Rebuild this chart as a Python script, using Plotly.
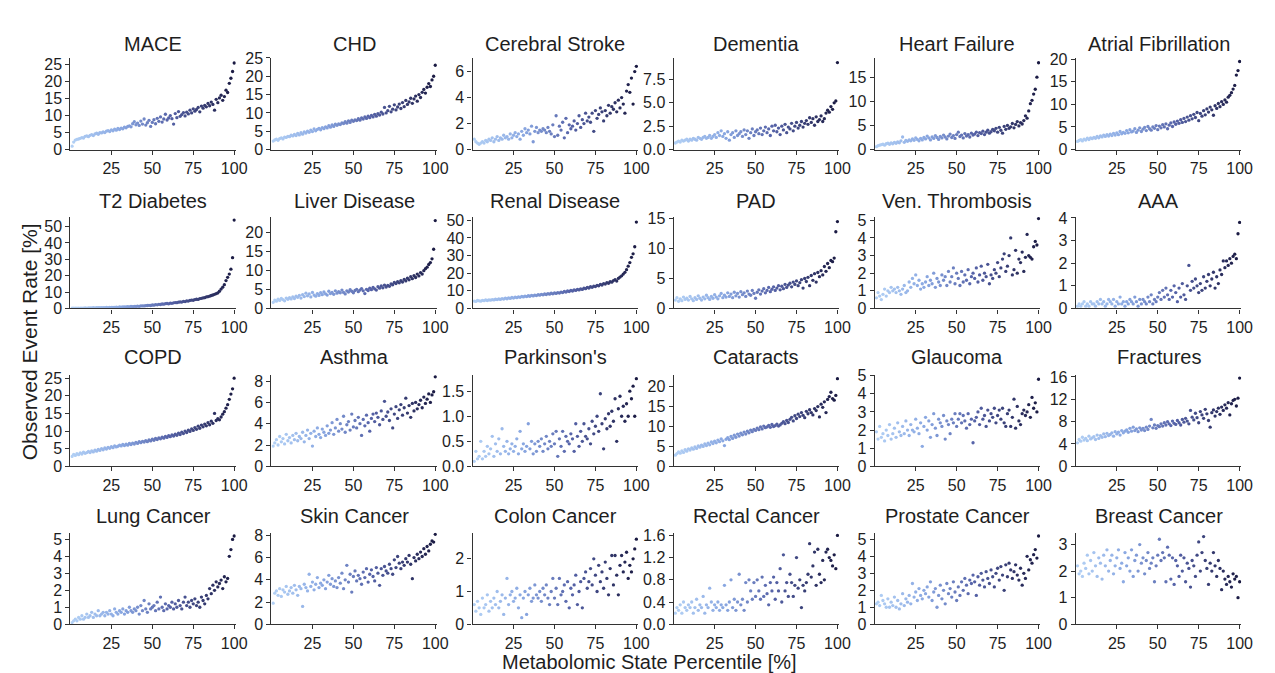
import plotly.graph_objects as go

# ---------------- data ----------------
titles = ["MACE", "CHD", "Cerebral Stroke", "Dementia", "Heart Failure", "Atrial Fibrillation",
          "T2 Diabetes", "Liver Disease", "Renal Disease", "PAD", "Ven. Thrombosis", "AAA",
          "COPD", "Asthma", "Parkinson's", "Cataracts", "Glaucoma", "Fractures",
          "Lung Cancer", "Skin Cancer", "Colon Cancer", "Rectal Cancer", "Prostate Cancer", "Breast Cancer"]

percentile = list(range(1, 101))

mace = [1.0, 2.2, 2.8, 3.0, 3.1, 3.3, 3.5, 3.4, 3.9, 4.0,
        3.8, 4.2, 4.4, 4.1, 4.6, 4.8, 4.5, 5.0, 4.9, 5.2,
        5.0, 5.4, 5.6, 5.3, 5.8, 5.5, 6.0, 5.7, 6.2, 5.9,
        6.3, 6.1, 6.6, 6.4, 6.8, 7.0, 6.7, 7.6, 8.2, 7.3,
        7.8, 7.1, 8.4, 7.5, 9.0, 7.2, 7.9, 8.6, 6.8, 8.0,
        8.8, 7.6, 9.2, 8.3, 9.6, 8.1, 9.0, 10.4, 8.7, 9.3,
        10.0, 9.1, 7.5, 10.6, 9.4, 11.2, 9.8, 10.3, 10.9, 9.9,
        11.0, 10.5, 11.6, 10.8, 12.0, 11.3, 11.8, 12.4, 11.1, 12.8,
        12.2, 13.0, 12.6, 13.6, 12.9, 14.0, 13.3, 11.6, 14.8, 13.8,
        15.2, 16.0, 14.5, 15.6, 17.5, 16.8, 19.5, 21.0, 23.0, 25.5]

chd = [2.3, 2.6, 2.8, 2.5, 3.0, 3.2, 2.9, 3.4, 3.3, 3.6,
       3.5, 3.9, 3.7, 4.1, 3.8, 4.4, 4.0, 4.6, 4.2, 4.8,
       4.5, 5.0, 4.7, 5.3, 4.9, 5.6, 5.1, 5.5, 5.8, 5.4,
       6.0, 5.7, 6.2, 5.9, 6.5, 6.1, 6.7, 6.3, 6.9, 6.6,
       7.0, 6.8, 7.3, 7.1, 7.6, 7.2, 7.8, 7.4, 8.0, 7.7,
       8.1, 7.9, 8.4, 8.0, 8.6, 8.3, 8.9, 8.5, 9.1, 8.7,
       9.3, 8.9, 9.6, 9.1, 9.8, 9.4, 10.2, 9.7, 11.5, 10.0,
       10.6, 11.8, 10.3, 11.0, 12.2, 10.8, 11.6, 12.4, 11.2, 12.8,
       11.7, 13.4, 12.3, 13.0, 14.0, 12.6, 13.8, 14.6, 13.2, 15.0,
       14.2, 15.6, 16.4, 15.4, 17.0, 18.0, 17.2, 19.0, 20.0, 23.0]

stroke = [0.8, 0.6, 0.5, 0.4, 0.5, 0.6, 0.5, 0.7, 0.6, 0.8,
          0.7, 0.9, 0.6, 0.8, 1.0, 0.7, 0.9, 0.8, 1.1, 0.9,
          1.0, 0.8, 1.2, 0.9, 1.1, 1.3, 1.0, 1.2, 0.8, 1.4,
          1.1, 1.6, 1.3, 1.5, 1.2, 1.8, 0.6, 1.4, 1.7, 1.3,
          1.5, 1.4, 1.6, 1.5, 1.3, 1.7, 1.4, 1.2, 1.9, 1.0,
          2.6, 1.1, 1.8, 1.5, 2.1, 0.9, 2.4, 1.3, 1.9, 1.6,
          1.8, 2.2, 1.5, 2.0, 2.6, 1.7, 2.3, 2.0, 2.8, 2.2,
          2.5, 2.1, 2.8, 1.4, 3.0, 2.4, 2.7, 3.2, 2.9, 2.2,
          3.0, 2.6, 3.4, 2.8, 3.3, 3.1, 3.6, 2.9, 3.8, 3.2,
          4.0, 3.5, 2.8, 4.5, 5.0, 4.4, 5.5, 3.5, 6.0, 6.4]

dementia = [0.7, 0.8, 0.9, 0.8, 1.0, 0.9, 1.0, 1.1, 0.9, 1.1,
            1.0, 1.2, 1.1, 1.0, 1.3, 1.2, 1.1, 1.3, 1.4, 1.2,
            1.3, 1.5, 1.2, 1.4, 1.6, 1.3, 1.8, 1.5, 2.0, 1.4,
            1.7, 1.2, 1.9, 1.0, 1.6, 1.8, 1.3, 2.0, 1.5, 1.7,
            1.9, 1.4, 2.1, 1.6, 2.0, 1.2, 1.8, 2.2, 1.5, 1.9,
            2.1, 1.7, 2.3, 1.6, 2.0, 2.4, 1.8, 2.2, 1.5, 2.5,
            2.0, 2.6, 1.9, 2.3, 1.6, 2.5, 2.1, 2.7, 1.8, 2.4,
            2.2, 2.8, 2.0, 2.5, 2.9, 2.3, 2.6, 3.0, 2.4, 2.8,
            3.1, 2.7, 3.4, 2.9, 3.3, 2.6, 3.5, 3.0, 3.2, 3.6,
            3.0, 3.3, 3.9, 4.2, 4.0, 4.6, 4.3, 5.0, 5.2, 9.3]

heart_failure = [0.6, 0.8, 0.9, 1.0, 1.1, 0.9, 1.2, 1.3, 1.1, 1.4,
                 1.2, 1.5, 1.3, 1.6, 1.4, 1.8, 2.6, 1.5, 1.9, 1.7,
                 2.0, 1.8, 2.2, 1.9, 2.4, 2.1, 1.8, 2.3, 2.0, 2.5,
                 2.2, 2.8, 2.4, 2.0, 2.6, 2.3, 2.9, 2.5, 2.1, 2.7,
                 2.4, 3.0, 2.6, 2.2, 2.8, 3.2, 2.5, 2.9, 2.3, 3.1,
                 3.6, 2.7, 3.0, 2.4, 3.3, 2.8, 3.1, 2.6, 3.4, 3.0,
                 3.2, 3.6, 2.9, 3.5, 3.3, 3.8, 3.1, 3.6, 4.0, 3.4,
                 3.7, 4.2, 3.9, 4.4, 3.6, 4.6, 4.0, 3.4, 4.8, 4.2,
                 5.0, 4.4, 4.7, 5.4, 4.5, 5.2, 5.8, 4.9, 5.6, 5.3,
                 6.0, 7.0, 6.5, 8.0, 9.5, 10.2, 11.5, 12.5, 15.0, 18.0]

atrial_fib = [1.8, 2.0, 2.2, 1.9, 2.3, 2.1, 2.5, 2.2, 2.6, 2.4,
              2.7, 2.5, 2.9, 2.6, 3.0, 2.8, 3.2, 2.9, 3.3, 3.0,
              3.4, 3.1, 3.6, 3.2, 3.7, 3.3, 4.0, 3.5, 3.8, 3.6,
              4.2, 3.7, 4.4, 3.9, 4.1, 4.6, 3.8, 4.3, 4.8, 4.0,
              4.5, 4.9, 4.2, 5.1, 4.6, 4.3, 5.0, 4.7, 5.3, 4.4,
              5.2, 4.8, 5.5, 5.0, 5.7, 4.6, 5.4, 5.9, 5.1, 6.1,
              5.6, 6.3, 5.8, 6.6, 6.0, 6.9, 6.2, 7.2, 6.5, 7.5,
              6.8, 7.8, 7.1, 8.2, 6.4, 8.0, 7.4, 8.6, 7.7, 9.0,
              8.3, 9.4, 8.8, 7.6, 9.7, 9.1, 10.2, 9.5, 10.6, 10.0,
              11.0, 10.5, 11.6, 12.0, 12.6, 13.4, 14.2, 16.5, 17.5, 19.5]

t2_diabetes = [0.1, 0.1, 0.1, 0.2, 0.1, 0.2, 0.2, 0.2, 0.3, 0.2,
               0.3, 0.3, 0.3, 0.4, 0.3, 0.4, 0.4, 0.5, 0.4, 0.5,
               0.5, 0.6, 0.5, 0.6, 0.7, 0.6, 0.7, 0.8, 0.7, 0.9,
               0.8, 0.9, 1.0, 0.9, 1.1, 1.0, 1.2, 1.1, 1.3, 1.2,
               1.4, 1.3, 1.5, 1.6, 1.5, 1.7, 1.8, 1.9, 1.8, 2.1,
               2.0, 2.3, 2.2, 2.5, 2.4, 2.7, 2.6, 2.9, 3.0, 2.8,
               3.2, 3.1, 3.4, 3.6, 3.5, 3.8, 4.0, 3.9, 4.3, 4.2,
               4.6, 4.5, 4.9, 5.1, 5.0, 5.4, 5.6, 5.5, 6.0, 6.2,
               6.4, 6.6, 7.0, 7.2, 7.5, 7.9, 8.2, 8.6, 9.0, 9.5,
               10.5, 11.8, 13.0, 14.5, 17.0, 19.0, 21.0, 24.0, 31.0, 54.0]

liver = [1.6, 2.2, 1.9, 2.4, 2.1, 2.6, 2.3, 2.0, 2.7, 2.4,
         2.8, 2.5, 3.0, 2.6, 3.2, 2.9, 3.4, 2.7, 3.6, 3.1,
         4.0, 3.3, 3.8, 3.0, 4.2, 3.5, 3.2, 3.9, 3.4, 4.1,
         3.6, 4.3, 3.8, 3.5, 4.5, 3.9, 4.2, 3.7, 4.6, 4.0,
         4.4, 4.1, 4.8, 4.2, 3.8, 4.6, 4.3, 4.9, 4.5, 4.1,
         4.7, 5.0, 4.4, 4.8, 5.2, 4.6, 3.9, 5.0, 4.7, 5.3,
         4.9, 5.5, 5.1, 4.8, 5.7, 5.3, 5.9, 5.4, 6.1, 5.6,
         6.0, 5.8, 6.4, 6.2, 6.8, 6.5, 7.0, 6.7, 7.3, 6.9,
         7.6, 7.2, 7.9, 7.5, 8.3, 7.8, 8.6, 8.1, 9.0, 8.5,
         9.4, 9.0, 9.9, 10.4, 10.8, 11.5, 12.0, 13.0, 15.5, 23.0]

renal = [4.2, 4.0, 4.5, 4.3, 4.1, 4.6, 4.4, 4.8, 4.5, 4.9,
         4.7, 5.0, 4.8, 5.2, 5.0, 5.4, 5.1, 5.6, 5.3, 5.8,
         5.5, 6.0, 5.7, 6.2, 5.9, 6.4, 6.1, 6.6, 6.3, 6.8,
         6.5, 7.0, 6.7, 7.2, 6.9, 7.4, 7.1, 7.6, 7.3, 7.8,
         7.5, 8.0, 7.7, 8.2, 7.9, 8.4, 8.1, 8.6, 8.3, 8.8,
         8.5, 9.0, 8.7, 9.3, 9.0, 9.6, 9.3, 9.9, 9.6, 10.2,
         9.9, 10.5, 10.2, 10.8, 10.5, 11.1, 10.8, 11.5, 11.2, 11.9,
         11.6, 12.3, 12.0, 12.7, 12.4, 13.1, 12.8, 13.6, 13.3, 14.1,
         13.8, 14.6, 14.3, 15.2, 14.9, 15.8, 16.3, 15.5, 17.0, 17.8,
         18.5, 19.5, 20.5, 22.0, 24.0, 26.0, 29.0, 31.0, 35.0, 49.0]

pad = [1.4, 1.8, 1.2, 1.6, 1.3, 1.9, 1.5, 1.7, 1.4, 2.0,
       1.6, 1.3, 1.8, 1.5, 2.1, 1.7, 1.4, 1.9, 1.6, 2.2,
       1.8, 1.5, 2.0, 1.7, 2.3, 1.9, 1.6, 2.1, 2.5, 1.8,
       2.2, 1.9, 2.6, 2.0, 2.4, 1.8, 2.7, 2.1, 2.5, 1.9,
       2.8, 2.3, 2.6, 2.0, 2.9, 2.4, 2.2, 3.0, 2.5, 1.7,
       2.7, 3.1, 2.4, 2.9, 3.3, 2.6, 3.0, 3.5, 2.8, 3.2,
       3.6, 3.0, 3.4, 3.8, 3.1, 3.7, 3.3, 4.0, 3.5, 3.9,
       4.2, 3.6, 4.4, 4.0, 4.6, 3.8, 4.3, 4.8, 3.4, 5.0,
       4.5, 5.2, 3.8, 5.5, 4.7, 5.8, 4.4, 6.0, 5.3, 6.3,
       5.6, 7.0, 6.2, 7.5, 6.8, 8.0, 7.8, 8.4, 12.8, 14.5]

ven_thromb = [0.6, 0.9, 0.7, 0.5, 0.8, 1.1, 0.7, 1.0, 0.9, 1.2,
              1.0, 1.1, 0.9, 1.2, 1.0, 0.8, 1.1, 1.3, 0.9, 1.0,
              1.5, 1.2, 1.7, 1.4, 1.9, 1.3, 1.6, 1.1, 1.4, 1.2,
              1.5, 1.8, 1.3, 1.6, 1.4, 2.0, 1.2, 1.7, 1.5, 1.3,
              1.9, 1.6, 1.8, 1.3, 2.1, 1.5, 1.8, 2.3, 1.4, 2.0,
              1.7, 1.3, 2.1, 1.5, 1.9, 1.6, 2.2, 1.4, 1.8, 2.0,
              1.7, 2.3, 1.5, 1.9, 2.4, 1.6, 2.0, 1.8, 2.5, 1.4,
              1.9, 1.7, 2.2, 2.0, 2.6, 1.8, 2.3, 2.8, 3.1, 2.1,
              2.4, 3.0, 4.0, 1.9, 2.2, 3.3, 2.0, 2.8, 2.6, 3.2,
              2.1, 2.9, 4.2, 3.0, 2.9, 2.8, 3.5, 3.8, 3.6, 5.1]

aaa = [0.1, 0.2, 0.1, 0.2, 0.3, 0.1, 0.2, 0.1, 0.3, 0.2,
       0.2, 0.1, 0.3, 0.2, 0.4, 0.2, 0.3, 0.1, 0.2, 0.4,
       0.3, 0.2, 0.4, 0.1, 0.3, 0.2, 0.5, 0.2, 0.3, 0.1,
       0.3, 0.2, 0.4, 0.3, 0.2, 0.5, 0.3, 0.1, 0.4, 0.2,
       0.4, 0.3, 0.2, 0.5, 0.3, 0.6, 0.2, 0.4, 0.3, 0.5,
       0.7, 0.4, 0.8, 0.5, 0.9, 0.6, 0.4, 0.8, 0.5, 1.0,
       0.7, 0.3, 0.9, 0.5, 1.1, 0.6, 0.4, 1.0, 1.9, 0.8,
       1.2, 0.9, 1.3, 1.0, 0.7, 1.1, 0.8, 1.4, 0.9, 1.2,
       1.5, 1.0, 1.3, 1.6, 0.9, 1.4, 1.1, 1.7, 1.5, 2.1,
       1.8, 2.1, 1.9, 2.2, 2.0, 2.3, 2.4, 2.2, 3.3, 3.8]

copd = [2.8, 3.4, 3.1, 3.6, 3.3, 3.8, 3.5, 4.0, 3.7, 3.9,
        4.2, 3.9, 4.4, 4.1, 4.6, 4.3, 4.8, 4.5, 5.0, 4.7,
        5.2, 4.9, 5.4, 5.1, 5.6, 5.3, 5.8, 5.5, 5.7, 6.0,
        5.8, 6.2, 5.9, 6.3, 6.0, 6.5, 6.2, 6.6, 6.3, 6.8,
        6.5, 7.0, 6.7, 7.1, 6.9, 7.3, 7.0, 7.5, 7.2, 7.7,
        7.4, 7.9, 7.6, 8.1, 7.8, 8.3, 8.0, 8.5, 8.2, 8.7,
        8.4, 8.9, 8.6, 9.1, 8.8, 9.4, 9.0, 9.7, 9.3, 10.0,
        9.6, 10.3, 9.9, 10.6, 10.2, 11.0, 10.5, 11.4, 10.8, 11.7,
        11.2, 12.0, 11.5, 12.4, 11.8, 12.8, 12.2, 15.0, 13.0, 13.5,
        13.2, 14.0, 14.8, 15.5, 16.5, 17.5, 19.0, 20.5, 22.0, 25.0]

asthma = [1.9, 2.2, 2.5, 2.0, 2.8, 2.3, 2.6, 2.1, 3.0, 2.4,
          2.7, 2.2, 2.9, 2.5, 3.1, 2.4, 2.8, 2.6, 3.2, 2.3,
          2.9, 3.4, 2.6, 3.1, 1.9, 3.3, 2.8, 3.6, 3.0, 2.7,
          3.5, 3.2, 2.9, 3.8, 3.1, 3.4, 4.1, 3.0, 3.6, 4.4,
          3.3, 4.0, 3.5, 4.7, 3.2, 3.9, 4.2, 3.4, 4.9, 3.7,
          4.3, 3.6, 4.6, 4.0, 2.9, 4.4, 3.8, 4.8, 4.1, 3.3,
          4.5, 4.9, 4.2, 5.0, 4.6, 3.9, 5.2, 4.4, 6.1, 4.7,
          5.1, 4.3, 5.4, 3.6, 4.9, 5.6, 4.5, 5.3, 5.8, 4.8,
          5.5, 6.4, 5.0, 5.7, 4.6, 5.9, 5.2, 6.0, 5.4, 5.8,
          6.2, 5.5, 6.5, 5.9, 6.3, 6.8, 6.0, 6.7, 7.0, 8.4]

parkinsons = [0.1, 0.3, 0.15, 0.2, 0.5, 0.15, 0.3, 0.2, 0.4, 0.25,
              0.35, 0.6, 0.2, 0.45, 0.3, 0.55, 0.25, 0.75, 0.4, 0.3,
              0.5, 0.25, 0.35, 0.45, 0.3, 0.4, 0.55, 0.25, 0.7, 0.35,
              0.45, 0.3, 0.4, 0.85, 0.35, 0.5, 0.25, 0.45, 0.3, 0.5,
              0.4, 0.55, 0.3, 0.45, 0.6, 0.35, 0.5, 0.4, 0.65, 0.45,
              0.7, 0.2, 0.55, 0.4, 0.7, 0.3, 0.6, 0.5, 0.45, 0.65,
              0.55, 0.3, 0.85, 0.6, 0.4, 0.7, 0.5, 0.85, 0.6, 0.55,
              0.75, 0.45, 0.9, 0.65, 0.8, 1.0, 0.7, 1.45, 0.85, 0.35,
              0.95, 0.75, 1.05, 0.8, 1.1, 0.9, 1.35, 0.5, 1.15, 1.4,
              1.0, 1.2, 0.9, 1.25, 1.0, 1.5, 1.35, 1.6, 1.0, 1.75]

cataracts = [2.8, 3.2, 3.6, 3.3, 3.9, 3.5, 4.2, 3.8, 4.4, 4.1,
             4.6, 4.3, 4.9, 4.5, 5.1, 4.8, 5.3, 5.0, 5.6, 5.2,
             5.8, 5.4, 6.1, 5.7, 6.3, 5.9, 6.6, 6.2, 6.9, 6.4,
             5.2, 6.8, 7.2, 6.7, 7.5, 7.0, 7.8, 7.3, 8.1, 7.6,
             8.3, 7.9, 8.6, 8.1, 8.8, 8.4, 9.1, 8.7, 9.3, 9.0,
             9.6, 9.2, 9.9, 9.4, 10.1, 9.7, 9.9, 10.3, 9.8, 10.5,
             10.0, 10.2, 10.6, 10.1, 10.4, 10.8, 11.2, 10.7, 11.5, 11.0,
             11.8, 12.3, 11.4, 12.7, 12.0, 13.1, 12.5, 13.5, 12.8, 12.2,
             13.8, 13.2, 14.2, 13.5, 12.9, 14.5, 14.0, 15.0, 12.4, 15.6,
             14.8, 16.2, 13.5, 16.8, 17.5, 18.6, 17.0, 16.6, 17.8, 22.0]

glaucoma = [1.9, 1.5, 2.2, 1.6, 1.8, 1.4, 2.0, 1.7, 2.3, 1.5,
            1.8, 2.1, 1.6, 2.4, 1.9, 1.7, 2.2, 1.8, 2.5, 2.0,
            1.7, 2.3, 2.0, 1.9, 2.6, 2.1, 1.8, 2.4, 1.1, 2.2,
            2.7, 2.0, 2.5, 1.6, 2.3, 2.9, 2.1, 1.7, 2.6, 2.4,
            2.2, 2.8, 1.5, 2.5, 2.3, 1.8, 2.6, 2.4, 2.9, 2.2,
            2.6, 2.9, 2.4, 2.8, 2.5, 2.1, 2.9, 2.3, 2.6, 1.3,
            2.5, 2.7, 3.0, 2.3, 3.2, 2.6, 2.8, 2.2, 3.1, 2.5,
            2.9, 2.7, 3.2, 2.4, 2.8, 3.1, 2.6, 3.2, 2.4, 2.2,
            2.9, 3.1, 2.2, 2.7, 3.7, 2.1, 3.3, 2.5, 2.3, 2.9,
            3.1, 2.8, 3.0, 3.4, 2.7, 3.8, 3.2, 3.5, 3.0, 4.8]

fractures = [4.2, 4.8, 4.5, 5.2, 4.7, 5.0, 4.6, 5.4, 4.9, 5.1,
             5.3, 4.8, 5.6, 5.0, 5.5, 5.2, 5.8, 5.3, 5.9, 5.5,
             5.7, 6.0, 5.4, 6.2, 5.8, 6.1, 5.6, 6.4, 6.0, 6.3,
             6.5, 6.1, 6.8, 6.3, 7.0, 6.4, 6.7, 6.2, 6.9, 6.5,
             6.8, 6.4, 7.0, 6.6, 7.2, 8.4, 6.9, 7.4, 6.8, 7.3,
             7.1, 7.6, 7.2, 7.8, 7.4, 8.0, 7.6, 7.3, 8.1, 7.7,
             7.5, 8.2, 7.8, 7.4, 8.4, 7.9, 8.6, 8.1, 7.6, 10.0,
             8.8, 8.3, 9.5, 8.7, 7.8, 9.8, 9.2, 8.6, 10.2, 9.4,
             8.2, 7.0, 9.6, 10.1, 9.0, 9.8, 10.4, 9.3, 10.6, 10.0,
             11.0, 10.4, 11.4, 9.2, 11.2, 11.8, 12.0, 10.8, 12.2, 15.8]

lung_cancer = [0.1, 0.2, 0.3, 0.2, 0.4, 0.3, 0.5, 0.3, 0.4, 0.6,
               0.4, 0.5, 0.7, 0.4, 0.6, 0.5, 0.8, 0.5, 0.6, 0.7,
               0.5, 0.7, 0.6, 0.8, 0.6, 0.5, 0.9, 0.7, 0.6, 0.8,
               0.7, 0.9, 0.6, 0.8, 0.7, 1.0, 0.8, 0.7, 0.9, 0.8,
               1.0, 0.6, 1.1, 0.8, 1.4, 0.9, 0.7, 1.2, 0.9, 1.0,
               1.1, 0.8, 1.3, 0.9, 1.6, 1.0, 0.8, 1.2, 0.9, 1.1,
               1.0, 1.3, 0.9, 1.2, 1.0, 1.4, 1.1, 0.9, 1.3, 1.6,
               1.1, 1.3, 1.0, 1.4, 1.2, 1.5, 1.1, 1.3, 1.0, 1.6,
               1.4, 1.2, 1.7, 1.5, 2.1, 1.8, 2.3, 2.0, 2.5, 2.2,
               2.4, 2.6, 2.1, 2.8, 2.5, 2.7, 4.0, 4.4, 5.0, 5.2]

skin_cancer = [1.9, 2.8, 3.0, 2.6, 3.2, 2.5, 3.1, 2.9, 3.4, 2.7,
               3.0, 3.3, 2.8, 3.5, 3.1, 2.6, 3.4, 3.2, 1.6, 3.6,
               3.3, 3.0, 4.5, 3.4, 3.8, 3.1, 3.6, 4.2, 3.3, 3.7,
               3.5, 4.0, 3.2, 3.8, 4.4, 3.6, 4.1, 3.4, 3.9, 3.3,
               4.2, 3.7, 4.6, 3.2, 4.0, 5.3, 3.8, 4.5, 2.9, 4.3,
               4.8, 3.9, 4.4, 4.1, 3.6, 4.7, 4.2, 5.0, 3.8, 4.5,
               4.9, 4.3, 3.9, 5.1, 4.6, 3.5, 5.0, 4.4, 5.2, 4.8,
               4.6, 5.4, 5.0, 4.5, 5.8, 5.1, 6.1, 5.5, 5.0, 5.6,
               5.3, 5.9, 5.6, 6.2, 5.4, 4.1, 6.0, 5.7, 6.3, 5.9,
               6.5, 6.1, 6.8, 6.3, 7.0, 6.6, 7.2, 7.5, 7.4, 8.1]

colon_cancer = [0.6, 0.4, 0.7, 0.5, 0.3, 0.8, 0.5, 0.6, 0.9, 0.4,
                0.7, 0.5, 0.8, 0.6, 1.0, 0.5, 0.7, 0.9, 0.3, 0.8,
                1.4, 0.6, 0.9, 1.0, 0.7, 0.8, 1.1, 0.5, 0.9, 0.2,
                0.8, 1.0, 0.3, 0.9, 1.1, 0.7, 0.8, 1.2, 0.9, 0.8,
                1.0, 0.7, 1.1, 0.9, 1.2, 0.8, 0.6, 1.0, 1.4, 0.8,
                1.1, 0.6, 1.4, 0.9, 1.0, 1.2, 0.7, 1.3, 0.5, 1.1,
                0.9, 1.2, 1.5, 0.6, 1.0, 1.3, 0.5, 1.4, 1.6, 1.1,
                1.3, 1.7, 1.2, 2.0, 1.5, 1.0, 1.8, 1.3, 1.6, 1.1,
                1.9, 1.4, 0.9, 1.7, 2.1, 1.2, 2.1, 1.5, 0.9, 1.8,
                2.1, 1.6, 1.9, 2.2, 1.4, 1.8, 1.6, 2.0, 2.3, 2.6]

rectal_cancer = [0.2, 0.3, 0.25, 0.35, 0.2, 0.4, 0.3, 0.25, 0.35, 0.3,
                 0.4, 0.2, 0.3, 0.45, 0.25, 0.35, 0.3, 0.5, 0.2, 0.35,
                 0.3, 0.65, 0.4, 0.25, 0.35, 0.3, 0.4, 0.25, 0.35, 0.3,
                 0.7, 0.35, 0.25, 0.4, 0.8, 0.3, 0.45, 0.25, 0.4, 0.9,
                 0.35, 0.45, 0.25, 0.75, 0.4, 0.8, 0.6, 0.45, 0.75, 0.5,
                 0.8, 0.6, 0.45, 0.85, 0.5, 0.7, 0.55, 0.35, 0.75, 0.6,
                 0.85, 0.45, 0.75, 0.6, 1.0, 0.4, 1.25, 0.6, 0.75, 0.5,
                 0.9, 0.75, 0.5, 0.7, 1.2, 0.65, 0.8, 0.3, 0.7, 0.6,
                 0.75, 0.9, 1.45, 0.85, 1.05, 1.3, 0.7, 1.35, 0.9, 0.75,
                 1.15, 0.8, 1.3, 1.35, 1.2, 1.15, 1.05, 1.25, 1.0, 1.6]

prostate_cancer = [1.2, 1.3, 1.1, 1.7, 1.4, 1.2, 1.0, 1.5, 1.0, 1.3,
                   1.1, 1.6, 1.0, 1.4, 0.9, 1.2, 1.8, 1.1, 1.5, 1.3,
                   1.7, 1.2, 2.4, 1.6, 1.9, 1.4, 2.1, 1.7, 1.5, 2.0,
                   1.8, 2.2, 1.6, 2.5, 1.4, 1.9, 2.1, 1.0, 1.7, 2.3,
                   1.5, 2.0, 1.2, 2.4, 1.8, 2.1, 1.6, 2.5, 1.9, 1.4,
                   2.2, 1.7, 2.5, 2.0, 2.7, 2.3, 1.8, 2.6, 2.4, 2.9,
                   2.5, 1.7, 2.8, 2.3, 3.0, 2.6, 2.2, 3.1, 2.7, 2.4,
                   3.2, 2.8, 2.2, 3.0, 3.3, 2.6, 3.4, 2.9, 2.0, 3.5,
                   2.8, 3.6, 3.2, 2.7, 3.1, 3.5, 2.9, 2.6, 3.3, 2.3,
                   3.0, 2.7, 4.0, 3.2, 3.8, 3.6, 4.1, 4.4, 3.9, 5.2]

breast_cancer = [2.2, 1.9, 2.0, 1.8, 2.3, 2.1, 2.6, 1.9, 2.4, 2.0,
                 2.7, 2.2, 1.8, 2.5, 2.3, 1.7, 2.6, 2.2, 2.8, 2.0,
                 2.4, 2.6, 1.9, 2.2, 2.5, 2.8, 2.1, 2.3, 1.6, 2.7,
                 2.2, 2.5, 2.0, 2.8, 1.8, 2.4, 2.6, 2.0, 3.0, 2.3,
                 2.5, 1.9, 2.4, 2.7, 2.1, 2.3, 2.5, 1.6, 2.2, 2.6,
                 3.2, 2.4, 2.7, 2.5, 1.6, 2.9, 2.6, 1.7, 2.5, 1.5,
                 2.4, 2.2, 1.8, 2.6, 2.0, 2.5, 1.6, 2.3, 2.1, 1.4,
                 2.4, 2.2, 1.8, 2.6, 3.1, 2.0, 2.7, 3.3, 2.4, 2.1,
                 1.5, 2.3, 2.0, 2.7, 2.2, 1.8, 2.4, 2.1, 1.3, 2.0,
                 1.7, 1.5, 1.8, 1.6, 1.4, 1.9, 1.7, 1.8, 1.0, 1.6]

series = [mace, chd, stroke, dementia, heart_failure, atrial_fib,
          t2_diabetes, liver, renal, pad, ven_thromb, aaa,
          copd, asthma, parkinsons, cataracts, glaucoma, fractures,
          lung_cancer, skin_cancer, colon_cancer, rectal_cancer, prostate_cancer, breast_cancer]

for s in series:
    assert len(s) == 100, len(s)

x_tick_values = [25, 50, 75, 100]
y_tick_steps = [5, 5, 2, 2.5, 5, 5,
                10, 5, 10, 5, 1, 1,
                5, 2, 0.5, 5, 1, 4,
                1, 2, 1, 0.4, 1, 1]
y_tick_formats = ["", "", "", ".1f", "", "",
                  "", "", "", "", "", "",
                  "", "", ".1f", "", "", "",
                  "", "", "", ".1f", "", ""]

# ---------------- layout / style ----------------
W, H = 1275, 673
y_tops = [27, 25, 7.05, 9.8, 19, 20.3,
          56, 24, 52, 15.3, 5.2, 4.05,
          26, 8.6, 1.83, 23, 5.05, 16.4,
          5.4, 8.25, 2.8, 1.65, 5.4, 3.45]
col_left = [63 + 203 * c for c in range(6)]
plot_w = 167
row_zero = [137, 300, 462, 624]
plot_h = 94
title_center = [28.5, 190, 350, 512.5]

FONT = "Liberation Sans, Arial, Helvetica, sans-serif"
AX_COLOR = "#333333"
TXT_COLOR = "#1e1e1e"
colorscale = [[0.0, "#b2d0f5"], [0.3, "#8aa8e2"], [0.6, "#5663a8"], [1.0, "#1a1a42"]]

fig = go.Figure()
annotations = []
for i, (name, ys) in enumerate(zip(titles, series)):
    r, c = divmod(i, 6)
    sfx = "" if i == 0 else str(i + 1)
    fig.add_trace(go.Scatter(
        x=percentile, y=ys, mode="markers",
        xaxis="x" + sfx, yaxis="y" + sfx, showlegend=False,
        marker=dict(size=3.3, color=percentile, colorscale=colorscale, cmin=1, cmax=100,
                    line=dict(width=0)),
        hovertemplate=name + "<br>%{x}: %{y}<extra></extra>"))
    x0 = col_left[c] / W
    x1 = (col_left[c] + plot_w) / W
    y0 = 1 - row_zero[r] / H
    y1 = 1 - (row_zero[r] - plot_h) / H
    common = dict(showline=True, linecolor=AX_COLOR, linewidth=1.3, ticks="outside",
                  ticklen=4, tickwidth=1.2, tickcolor=AX_COLOR, showgrid=False, zeroline=False,
                  tickfont=dict(family=FONT, size=16, color=TXT_COLOR), fixedrange=True)
    fig.update_layout(**{
        "xaxis" + sfx: dict(domain=[x0, x1], anchor="y" + sfx, range=[0, 101],
                            tickmode="array", tickvals=x_tick_values, **common),
        "yaxis" + sfx: dict(domain=[y0, y1], anchor="x" + sfx, range=[0, y_tops[i]],
                            tick0=0, dtick=y_tick_steps[i], tickformat=y_tick_formats[i],
                            **common),
    })
    annotations.append(dict(text=name, x=(x0 + x1) / 2, y=1 - title_center[r] / H,
                            xref="paper", yref="paper", xanchor="center", yanchor="middle",
                            showarrow=False, font=dict(family=FONT, size=20, color=TXT_COLOR)))

annotations.append(dict(text="Observed Event Rate [%]", x=22 / W, y=1 - 334 / H, textangle=-90,
                        xref="paper", yref="paper", xanchor="center", yanchor="middle",
                        showarrow=False, font=dict(family=FONT, size=21, color=TXT_COLOR)))
annotations.append(dict(text="Metabolomic State Percentile [%]", x=648 / W, y=1 - 663 / H,
                        xref="paper", yref="paper", xanchor="center", yanchor="middle",
                        showarrow=False, font=dict(family=FONT, size=20, color=TXT_COLOR)))

fig.update_layout(width=W, height=H, margin=dict(l=0, r=0, t=0, b=0),
                  paper_bgcolor="white", plot_bgcolor="white",
                  annotations=annotations, font=dict(family=FONT, color=TXT_COLOR))

fig.write_html("out.html")
